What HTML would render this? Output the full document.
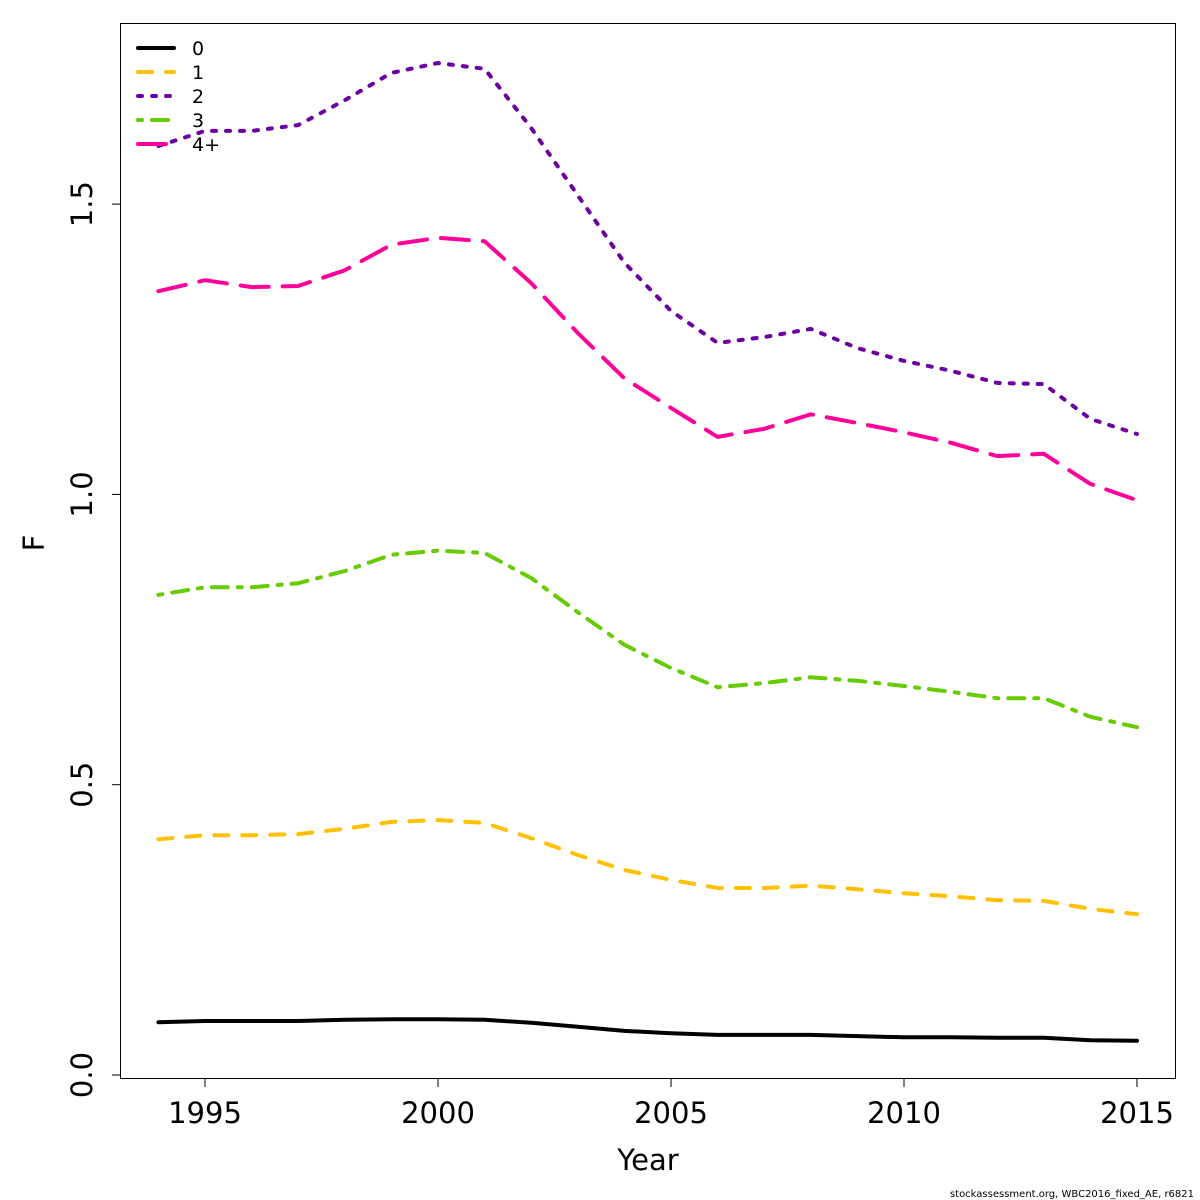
<!DOCTYPE html>
<html><head><meta charset="utf-8"><style>
body{margin:0;background:#fff;}
svg{display:block;font-family:"DejaVu Sans","Liberation Sans",sans-serif;}
</style></head><body>
<svg id="chart" width="1200" height="1200" viewBox="0 0 1200 1200">
<rect x="0" y="0" width="1200" height="1200" fill="#fff"/>
<rect x="120.5" y="23.5" width="1055" height="1055" fill="none" stroke="#000" stroke-width="1"/>
<g id="xaxis"></g>
<g id="yaxis"></g>
<g id="series"></g>
<g id="legend"></g>
<text x="648" y="1170" font-size="29" text-anchor="middle">Year</text>
<text transform="translate(44,543) rotate(-90)" font-size="29" text-anchor="middle">F</text>
<text x="1194" y="1197" font-size="10" text-anchor="end">stockassessment.org, WBC2016_fixed_AE, r6821</text>
</svg>
<script>
const years = [1994,1995,1996,1997,1998,1999,2000,2001,2002,2003,2004,2005,2006,2007,2008,2009,2010,2011,2012,2013,2014,2015];
const age0 = [0.091,0.093,0.093,0.093,0.095,0.096,0.096,0.095,0.090,0.083,0.076,0.072,0.069,0.069,0.069,0.067,0.065,0.065,0.064,0.064,0.060,0.059];
const age1 = [0.406,0.413,0.413,0.415,0.424,0.436,0.439,0.434,0.408,0.379,0.353,0.336,0.322,0.322,0.326,0.320,0.313,0.308,0.301,0.300,0.286,0.277];
const age2 = [1.600,1.626,1.626,1.636,1.679,1.726,1.743,1.733,1.631,1.515,1.399,1.316,1.261,1.271,1.285,1.252,1.230,1.213,1.192,1.190,1.130,1.104];
const age3 = [0.827,0.840,0.840,0.847,0.868,0.896,0.903,0.899,0.856,0.797,0.741,0.701,0.668,0.675,0.685,0.679,0.670,0.660,0.649,0.649,0.617,0.599];
const age4 = [1.350,1.369,1.357,1.359,1.386,1.430,1.442,1.436,1.364,1.278,1.200,1.149,1.099,1.113,1.138,1.123,1.107,1.089,1.066,1.070,1.018,0.990];
const xTicks = [1995,2000,2005,2010,2015];
const yTicks = [0.0,0.5,1.0,1.5];
const yTickLabels = ["0.0","0.5","1.0","1.5"];
const seriesNames = ["0","1","2","3","4+"];

const NS="http://www.w3.org/2000/svg";
const xs = y => 205 + (y-1995)*46.6;
const ys = v => 1075 - v*580.6;
function mk(tag, attrs, parent){const e=document.createElementNS(NS,tag);for(const k in attrs)e.setAttribute(k,attrs[k]);parent.appendChild(e);return e;}

const xa=document.getElementById('xaxis');
xTicks.forEach(t=>{
  const l=mk('line',{x1:xs(t),x2:xs(t),y1:1079,y2:1087,stroke:'#000'},xa);
  
  
  const tx=mk('text',{x:xs(t),y:1123,'font-size':29,'text-anchor':'middle'},xa);
  tx.textContent=t;
  
  
});
const ya=document.getElementById('yaxis');
yTicks.forEach((t,i)=>{
  const l=mk('line',{x1:112,x2:120,y1:ys(t),y2:ys(t),stroke:'#000'},ya);
  
  
  const tx=mk('text',{transform:`translate(92,${ys(t)}) rotate(-90)`,'font-size':29,'text-anchor':'middle'},ya);
  tx.textContent=yTickLabels[i];
  
  
});
const styles=[
  {c:'#000000',d:''},
  {c:'#FFC000',d:'14 14'},
  {c:'#6A00A0',d:'4 10'},
  {c:'#66CC00',d:'4 10 16 10'},
  {c:'#FF0099',d:'28 14'}
];
const data=[age0,age1,age2,age3,age4];
const sg=document.getElementById('series');
data.forEach((arr,i)=>{
  const pts=arr.map((v,j)=>xs(years[j]).toFixed(1)+','+ys(v).toFixed(1)).join(' ');
  const p=mk('polyline',{points:pts,fill:'none',stroke:styles[i].c,'stroke-width':4,'stroke-dasharray':styles[i].d,'stroke-linecap':'round','stroke-linejoin':'round'},sg);
  
  
});
const lg=document.getElementById('legend');
seriesNames.forEach((n,i)=>{
  const y=48+i*24;
  const l=mk('line',{x1:138,x2:174,y1:y,y2:y,stroke:styles[i].c,'stroke-width':4,'stroke-dasharray':styles[i].d,'stroke-linecap':'round'},lg);
  
  
  const t=mk('text',{x:192,y:y+7,'font-size':19},lg);
  t.textContent=n;
  
  
});
</script>
</body></html>
